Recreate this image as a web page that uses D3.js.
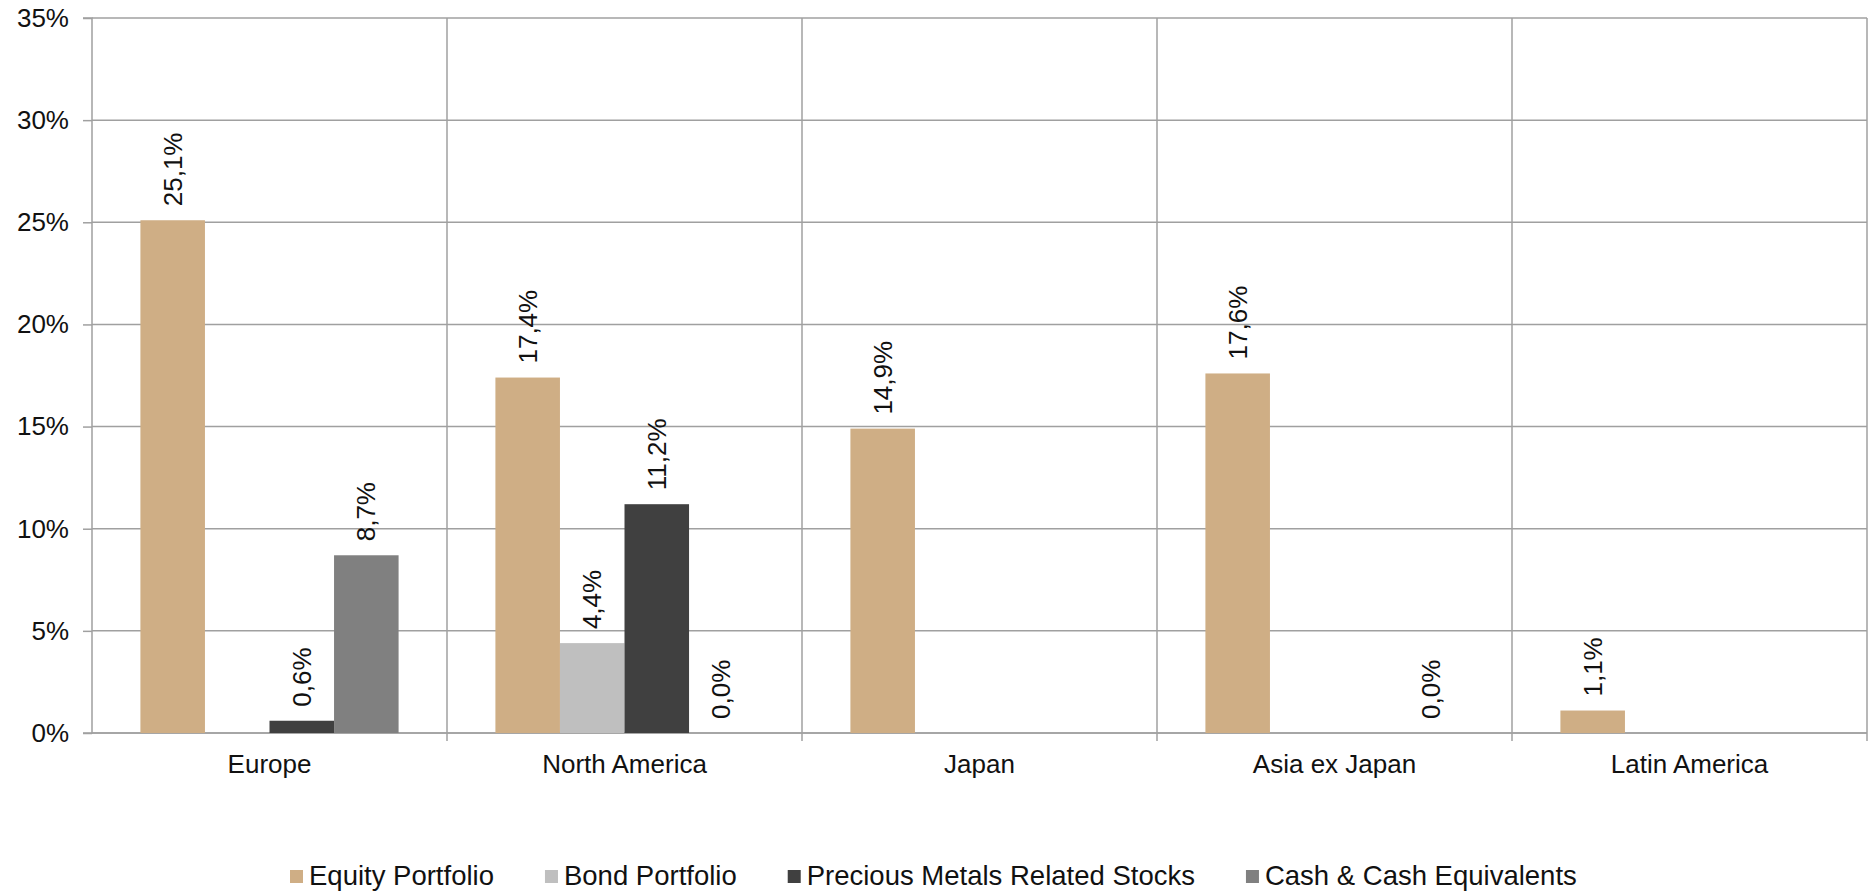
<!DOCTYPE html>
<html>
<head>
<meta charset="utf-8">
<script src="https://cdn.jsdelivr.net/npm/d3@7"></script>
<style>
  html, body { margin: 0; padding: 0; background: #ffffff; }
  svg { display: block; font-family: "Liberation Sans", Arial, sans-serif; }
</style>
</head>
<body>
<svg id="chart" width="1870" height="893"></svg>
<script>
// Regional allocation by asset class (percent of portfolio)
const regions = ["Europe", "North America", "Japan", "Asia ex Japan", "Latin America"];
const seriesNames = ["Equity Portfolio", "Bond Portfolio", "Precious Metals Related Stocks", "Cash & Cash Equivalents"];
const seriesColors = ["#cfae85", "#bfbfbf", "#404040", "#808080"];

// null = no holding in that region (no bar, no label)
const equity   = [25.1, 17.4, 14.9, 17.6, 1.1];
const bonds    = [null, 4.4, null, null, null];
const precious = [0.6, 11.2, null, null, null];
const cash     = [8.7, 0.0, null, 0.0, null];

const yTicks = [0, 5, 10, 15, 20, 25, 30, 35];

const seriesValues = [equity, bonds, precious, cash];

const W = 1870, H = 893;
const margin = { left: 92, right: 3, top: 18, bottom: 160 };
const plotRight = W - margin.right;
const plotBottom = H - margin.bottom;

const svg = d3.select("#chart");
const gridColor = "#a0a0a0";
const textColor = "#111111";
const fontSize = 26;
const legendFontSize = 27.5;
const legendGap = 51;

const x0 = d3.scaleBand().domain(regions).range([margin.left, plotRight]).padding(0);
// Bars grouped with a gap of 1.5 bar widths between groups
const barW = x0.bandwidth() / (seriesNames.length + 1.5);
const x1 = d3.scaleBand()
  .domain(seriesNames)
  .range([barW * 0.75, barW * 0.75 + barW * seriesNames.length])
  .padding(0);
const y = d3.scaleLinear().domain([0, 35]).range([plotBottom, margin.top]);

const locale = d3.formatLocale({ decimal: ",", thousands: ".", grouping: [3], currency: ["", "€"] });
const fmt = locale.format(".1f");

// Horizontal gridlines
svg.append("g")
  .selectAll("line")
  .data(yTicks)
  .join("line")
  .attr("x1", margin.left).attr("x2", plotRight)
  .attr("y1", d => y(d)).attr("y2", d => y(d))
  .attr("stroke", gridColor).attr("stroke-width", 1.5);

// Category dividers (extend below the axis as tick marks)
const dividerPos = regions.map(r => x0(r) + x0.bandwidth());
svg.append("g")
  .selectAll("line")
  .data(dividerPos)
  .join("line")
  .attr("x1", d => d).attr("x2", d => d)
  .attr("y1", margin.top).attr("y2", plotBottom + 8)
  .attr("stroke", gridColor).attr("stroke-width", 1.5);

// Y axis
const yAxis = d3.axisLeft(y)
  .tickValues(yTicks)
  .tickSize(9)
  .tickPadding(14)
  .tickFormat(d => d + "%");
const yg = svg.append("g").attr("transform", `translate(${margin.left},0)`).call(yAxis);
yg.select(".domain").attr("stroke", gridColor).attr("stroke-width", 1.5)
  .attr("d", `M-9,${y(35)}H0V${plotBottom}H-9`);
yg.selectAll(".tick line").attr("stroke", gridColor).attr("stroke-width", 1.5);
yg.selectAll(".tick text")
  .attr("fill", textColor)
  .style("font-size", fontSize + "px")
  .style("font-family", "'Liberation Sans', Arial, sans-serif");

// X axis
const xAxis = d3.axisBottom(x0).tickSize(0).tickPadding(22);
const xg = svg.append("g").attr("transform", `translate(0,${plotBottom})`).call(xAxis);
xg.select(".domain").attr("stroke", gridColor).attr("stroke-width", 1.5)
  .attr("d", `M${margin.left},0H${plotRight}`);
xg.selectAll(".tick text")
  .attr("fill", textColor)
  .style("font-size", fontSize + "px")
  .style("font-family", "'Liberation Sans', Arial, sans-serif");

// Bars and labels
const cells = [];
regions.forEach((r, i) => {
  seriesNames.forEach((s, j) => {
    const v = seriesValues[j][i];
    if (v !== null) cells.push({ region: r, series: s, value: v, color: seriesColors[j] });
  });
});

const groups = svg.append("g");
groups.selectAll("rect")
  .data(cells)
  .join("rect")
  .attr("x", d => x0(d.region) + x1(d.series))
  .attr("width", x1.bandwidth())
  .attr("y", d => y(d.value))
  .attr("height", d => y(0) - y(d.value))
  .attr("fill", d => d.color);

groups.selectAll("text")
  .data(cells)
  .join("text")
  .attr("transform", d => {
    const cx = x0(d.region) + x1(d.series) + x1.bandwidth() / 2;
    const cy = y(d.value) - 14;
    return `translate(${cx},${cy}) rotate(-90)`;
  })
  .attr("text-anchor", "start")
  .attr("dy", "0.35em")
  .attr("fill", textColor)
  .style("font-size", fontSize + "px")
  .text(d => fmt(d.value) + "%");

// Legend
const legend = svg.append("g").attr("transform", "translate(290, 0)");
let lx = 0;
seriesNames.forEach((s, j) => {
  const item = legend.append("g").attr("transform", `translate(${lx},0)`);
  item.append("rect")
    .attr("x", 0).attr("y", 870)
    .attr("width", 13).attr("height", 13)
    .attr("fill", seriesColors[j]);
  const t = item.append("text")
    .attr("x", 19).attr("y", 885)
    .attr("fill", textColor)
    .style("font-size", legendFontSize + "px")
    .text(s);
  lx += 19 + t.node().getComputedTextLength() + legendGap;
});
</script>
</body>
</html>
